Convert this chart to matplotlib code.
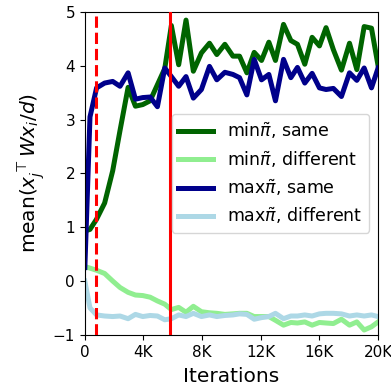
import numpy as np
import matplotlib
matplotlib.use("Agg")
import matplotlib.pyplot as plt
from matplotlib.ticker import FuncFormatter

# iterations at which each curve was logged
iters = [0, 350, 800, 1350, 1900, 2400, 2950, 3450, 3950, 4450, 4950,
         5450, 5900, 6400, 6900, 7400, 7950, 8500, 9000, 9550, 10100,
         10550, 11050, 11550, 12050, 12550, 13000, 13550, 14050, 14500, 15000,
         15500, 16000, 16450, 16950, 17500, 18050, 18550, 19050, 19550, 20000]

min_same = [0.93, 0.96, 1.15, 1.45, 2.05, 2.80, 3.60, 3.25, 3.28, 3.35, 3.65,
            3.95, 4.75, 4.02, 4.85, 3.90, 4.24, 4.42, 4.21, 4.40, 4.18,
            4.18, 3.87, 4.25, 4.10, 4.44, 4.10, 4.77, 4.47, 4.40, 4.03,
            4.53, 4.37, 4.71, 4.30, 3.92, 4.42, 3.93, 4.73, 4.70, 4.00]

min_diff = [0.27, 0.24, 0.20, 0.14, 0.00, -0.12, -0.21, -0.26, -0.27, -0.30, -0.37,
            -0.43, -0.53, -0.49, -0.58, -0.47, -0.57, -0.59, -0.60, -0.62, -0.61,
            -0.60, -0.60, -0.66, -0.66, -0.66, -0.73, -0.82, -0.77, -0.78, -0.76,
            -0.82, -0.77, -0.78, -0.79, -0.71, -0.82, -0.76, -0.91, -0.85, -0.76]

max_same = [0.25, 3.05, 3.59, 3.68, 3.71, 3.62, 3.87, 3.38, 3.41, 3.42, 3.24,
            3.96, 3.80, 3.62, 3.80, 3.40, 3.56, 3.99, 3.74, 3.88, 3.84,
            3.78, 3.46, 4.12, 3.74, 3.84, 3.35, 4.12, 3.78, 3.97, 3.68,
            3.86, 3.59, 3.56, 3.58, 3.43, 3.87, 3.73, 3.96, 3.59, 3.96]

max_diff = [0.00, -0.50, -0.63, -0.65, -0.66, -0.65, -0.70, -0.62, -0.66, -0.64, -0.65,
            -0.72, -0.70, -0.63, -0.66, -0.60, -0.66, -0.63, -0.66, -0.64, -0.63,
            -0.61, -0.62, -0.71, -0.68, -0.66, -0.60, -0.70, -0.65, -0.65, -0.63,
            -0.65, -0.61, -0.60, -0.60, -0.61, -0.65, -0.63, -0.65, -0.63, -0.66]

dashed_at = 750
solid_at = 5800

fig = plt.figure(figsize=(3.91, 3.88), dpi=100)
ax = fig.add_axes([0.217, 0.137, 0.75, 0.832])

lw = 3.6
ax.plot(iters, min_same, color="darkgreen", lw=lw, label=r"min$\tilde{\pi}$, same")
ax.plot(iters, min_diff, color="lightgreen", lw=lw, label=r"min$\tilde{\pi}$, different")
ax.plot(iters, max_same, color="darkblue", lw=lw, label=r"max$\tilde{\pi}$, same")
ax.plot(iters, max_diff, color="lightblue", lw=lw, label=r"max$\tilde{\pi}$, different")

ax.axvline(dashed_at, color="red", lw=2.2, ls="--", zorder=4)
ax.axvline(solid_at, color="red", lw=2.2, zorder=4)

ax.set_xlim(0, 20000)
ax.set_ylim(-1, 5)
ax.set_xticks([0, 4000, 8000, 12000, 16000, 20000])
ax.xaxis.set_major_formatter(FuncFormatter(lambda v, p: "0" if v == 0 else f"{v / 1000:.0f}K"))
ax.set_yticks([-1, 0, 1, 2, 3, 4, 5])
ax.tick_params(labelsize=11)

ax.set_xlabel("Iterations", fontsize=14.5, labelpad=5)
ax.set_ylabel(r"mean$(x_j^\top W x_i / d)$", fontsize=14.5, labelpad=4)

ax.legend(loc="center right", fontsize=12.5, handlelength=2.0,
          borderaxespad=0.5, labelspacing=0.45)

fig.savefig("out.png", dpi=100)
